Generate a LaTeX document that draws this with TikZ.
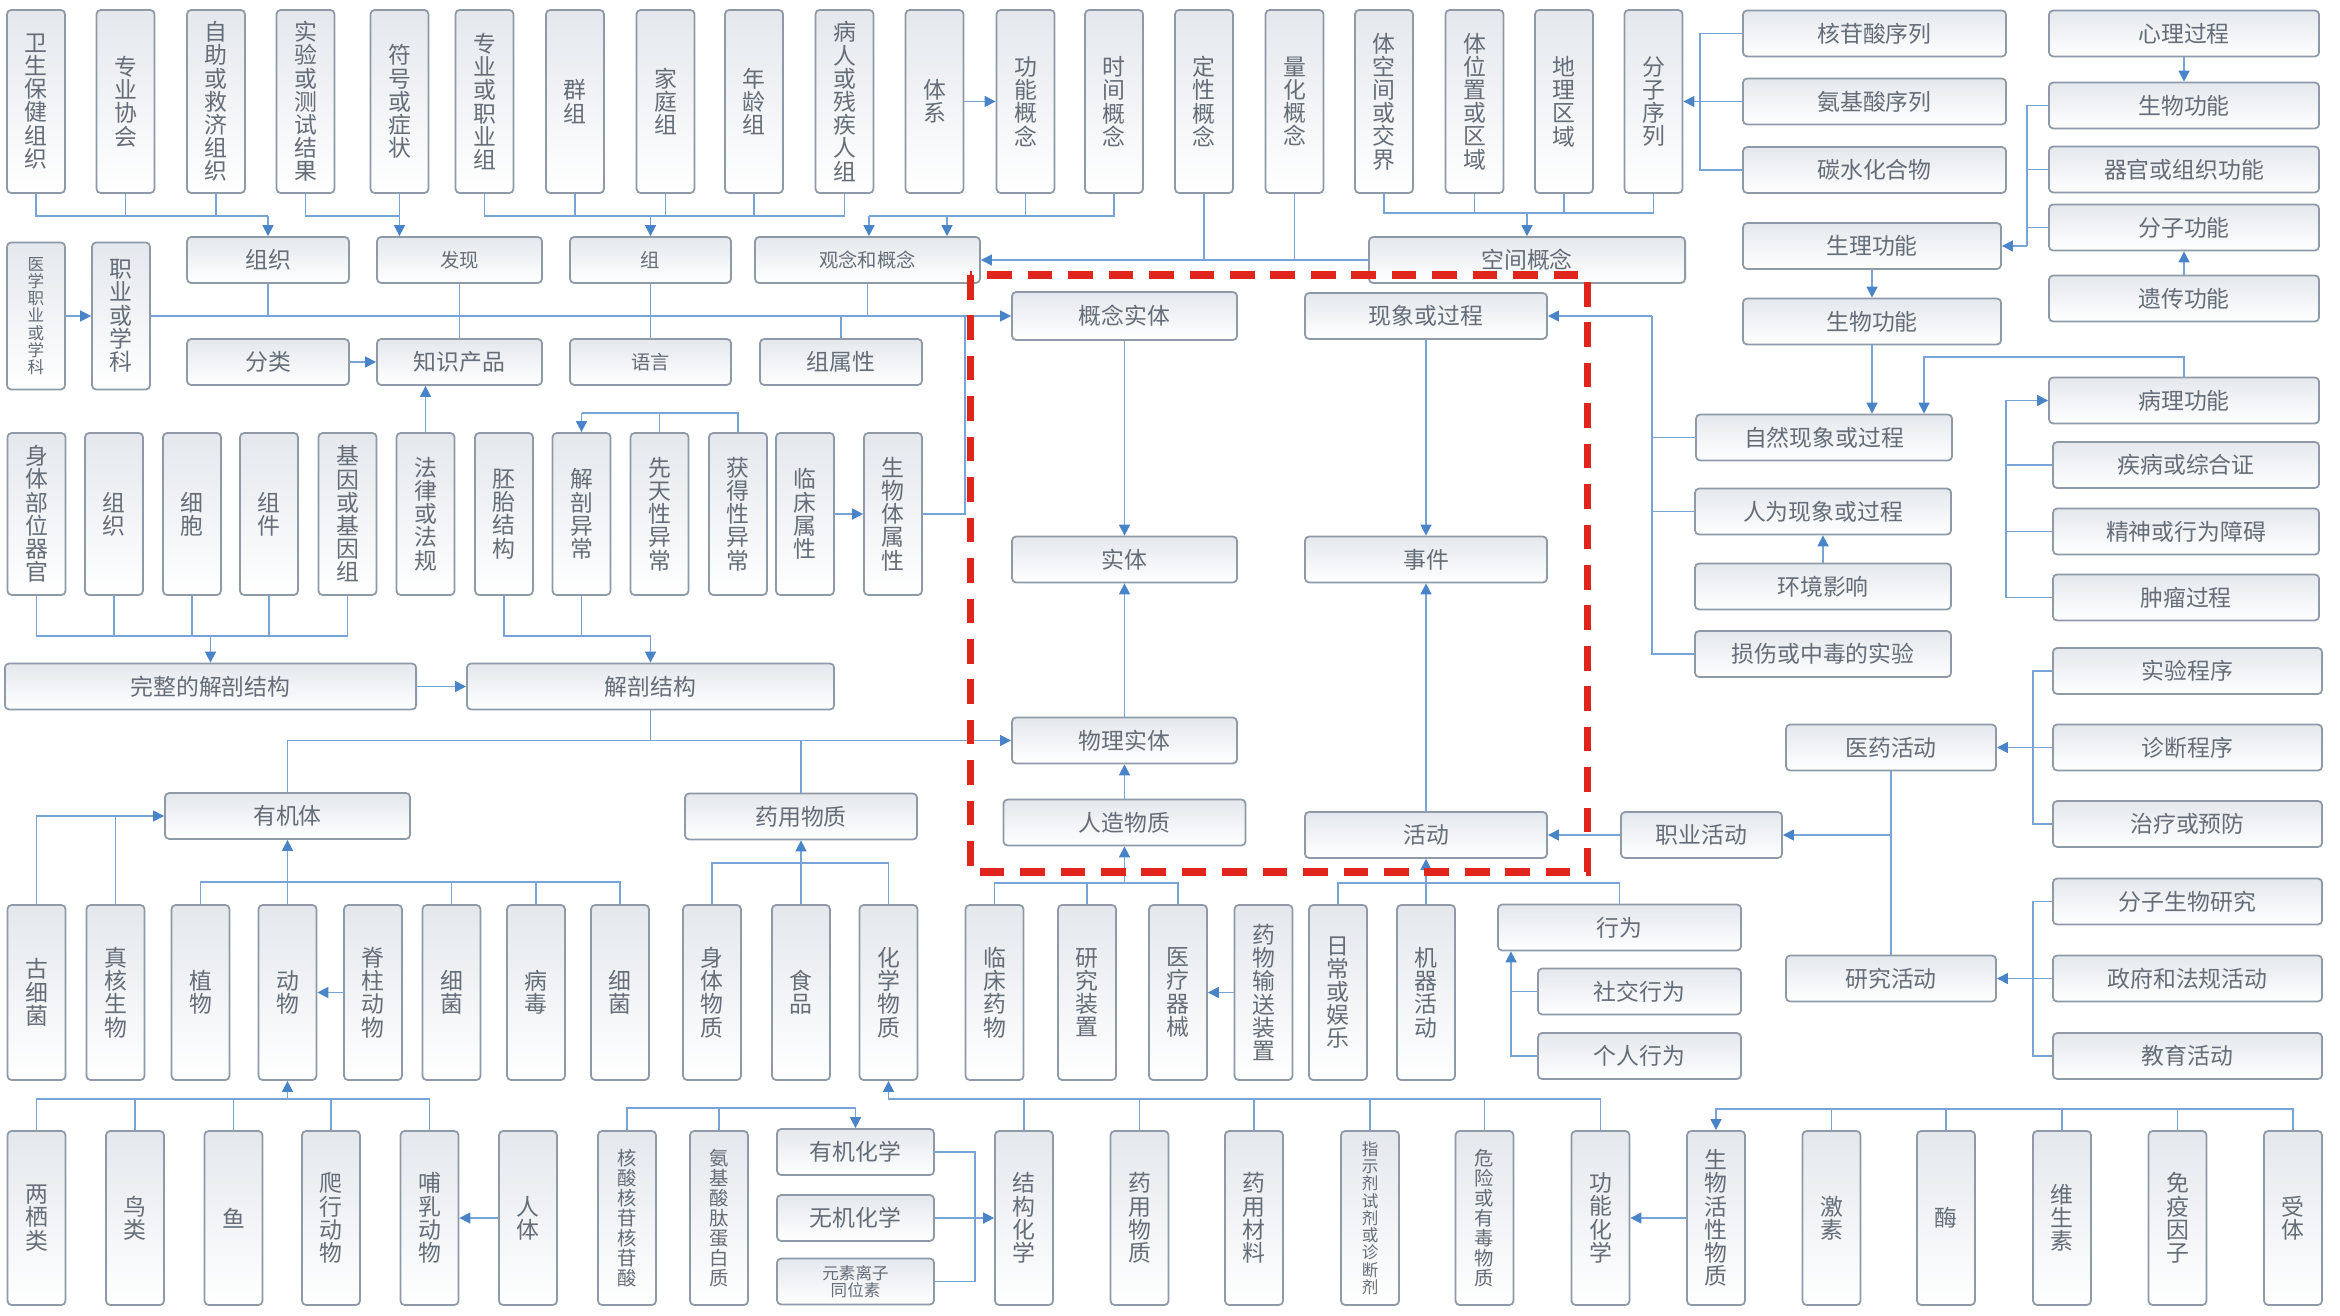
\documentclass[tikz,border=0pt]{standalone}
\usepackage{fontspec}
\newfontfamily\cjk{Noto Sans CJK SC}
\usepackage{tikz}
\usetikzlibrary{arrows.meta}
\definecolor{boxline}{HTML}{8E9AA8}
\definecolor{boxtop}{HTML}{E4E8ED}
\definecolor{boxtext}{HTML}{646D78}
\definecolor{wire}{HTML}{77A3D6}
\definecolor{tip}{HTML}{4A84C8}
\definecolor{alert}{HTML}{E0251C}
\makeatletter
\newcommand\vtxt[1]{\parindent=0pt\vtxt@a#1\@nil}
\def\vtxt@a#1#2\@nil{#1\ifx\relax#2\relax\else\par\vtxt@a#2\@nil\fi}
\makeatother
\tikzset{
  box/.style={draw=boxline,line width=0.5pt,rounded corners=1.2pt,top color=boxtop,bottom color=white,
    text=boxtext,inner sep=0pt,align=center,font=\cjk\fontsize{6.5}{6.6}\selectfont},
  vbox/.style={box,minimum width=0.58cm,minimum height=#1,text width=0.58cm},
  hbox/.style={box,minimum width=#1,minimum height=0.46cm},
  smallfont/.style={font=\cjk\fontsize{5.5}{5.7}\selectfont},
  tinyfont/.style={font=\cjk\fontsize{4.7}{4.9}\selectfont},
  ln/.style={draw=wire,line width=0.45pt},
  arr/.style={ln,-{Triangle[length=1.1mm,width=1.1mm,color=tip]}},
  reddash/.style={draw=alert,line width=2pt,dash pattern=on 7pt off 4.5pt}
}
\begin{document}
\begin{tikzpicture}[x=0.01cm,y=-0.01cm]
  \fill[white] (0,0) rectangle (2340,1316);
  \useasboundingbox (0,0) rectangle (2340,1316);
  \node[vbox=1.83cm] (wsbj) at (36,101.5) {\vtxt{卫生保健组织}};
  \node[vbox=1.83cm] (zyxh) at (125.5,101.5) {\vtxt{专业协会}};
  \node[vbox=1.83cm] (zzjj) at (216,101.5) {\vtxt{自助或救济组织}};
  \node[vbox=1.83cm] (sycs) at (305.5,101.5) {\vtxt{实验或测试结果}};
  \node[vbox=1.83cm] (fhzz) at (399.5,101.5) {\vtxt{符号或症状}};
  \node[vbox=1.83cm] (zyzy) at (484.5,101.5) {\vtxt{专业或职业组}};
  \node[vbox=1.83cm] (qz) at (575,101.5) {\vtxt{群组}};
  \node[vbox=1.83cm] (jtz) at (665.5,101.5) {\vtxt{家庭组}};
  \node[vbox=1.83cm] (nlz) at (754,101.5) {\vtxt{年龄组}};
  \node[vbox=1.83cm] (brcj) at (844.5,101.5) {\vtxt{病人或残疾人组}};
  \node[vbox=1.83cm] (tx) at (934.5,101.5) {\vtxt{体系}};
  \node[vbox=1.83cm] (gngn) at (1025.5,101.5) {\vtxt{功能概念}};
  \node[vbox=1.83cm] (sjgn) at (1114,101.5) {\vtxt{时间概念}};
  \node[vbox=1.83cm] (dxgn) at (1204,101.5) {\vtxt{定性概念}};
  \node[vbox=1.83cm] (lhgn) at (1294.5,101.5) {\vtxt{量化概念}};
  \node[vbox=1.83cm] (tkj) at (1384,101.5) {\vtxt{体空间或交界}};
  \node[vbox=1.83cm] (twz) at (1474.5,101.5) {\vtxt{体位置或区域}};
  \node[vbox=1.83cm] (dlqy) at (1564,101.5) {\vtxt{地理区域}};
  \node[vbox=1.83cm] (fzxl) at (1653.5,101.5) {\vtxt{分子序列}};

  \node[vbox=1.47cm,tinyfont] (yxzy) at (36,316) {\vtxt{医学职业或学科}};
  \node[vbox=1.47cm] (zyxk) at (121,316) {\vtxt{职业或学科}};
  \node[hbox=1.62cm] (zz) at (268,260) {组织};
  \node[hbox=1.65cm,smallfont] (fx) at (459.5,260) {发现};
  \node[hbox=1.61cm,smallfont] (zu) at (650.5,260) {组};
  \node[hbox=2.25cm,smallfont] (gnhgn) at (867.5,260) {观念和概念};
  \node[hbox=3.16cm] (kjgn) at (1527,260) {空间概念};
  \node[hbox=1.62cm] (fl) at (268,362) {分类};
  \node[hbox=1.65cm] (zscp) at (459.5,362) {知识产品};
  \node[hbox=1.61cm,smallfont] (yy) at (650.5,362) {语言};
  \node[hbox=1.62cm] (zsx) at (841,362) {组属性};
  \node[hbox=2.25cm,minimum height=0.48cm] (gnst) at (1124.5,316) {概念实体};
  \node[hbox=2.42cm] (xxgc) at (1426,316) {现象或过程};

  \node[hbox=2.63cm] (hgs) at (1874.5,33.5) {核苷酸序列};
  \node[hbox=2.63cm] (ajs) at (1874.5,101.5) {氨基酸序列};
  \node[hbox=2.63cm] (tshhw) at (1874.5,170) {碳水化合物};
  \node[hbox=2.58cm] (slgn) at (1872,246) {生理功能};
  \node[hbox=2.58cm] (swgnA) at (1872,321.5) {生物功能};
  \node[hbox=2.70cm] (xlgc) at (2184,33.5) {心理过程};
  \node[hbox=2.70cm] (swgnB) at (2184,105.5) {生物功能};
  \node[hbox=2.70cm] (qggn) at (2184,169.5) {器官或组织功能};
  \node[hbox=2.70cm] (fzgn) at (2184,227.5) {分子功能};
  \node[hbox=2.70cm] (ycgn) at (2184,298.5) {遗传功能};
  \node[hbox=2.70cm] (blgn) at (2184,400.5) {病理功能};
  \node[hbox=2.66cm] (jbzh) at (2186,465) {疾病或综合证};
  \node[hbox=2.66cm] (jsxw) at (2186,531.5) {精神或行为障碍};
  \node[hbox=2.66cm] (zlgc) at (2186,597.5) {肿瘤过程};
  \node[hbox=2.69cm] (sycx) at (2187.5,671) {实验程序};
  \node[hbox=2.69cm] (zdcx) at (2187.5,747.5) {诊断程序};
  \node[hbox=2.69cm] (zlyf) at (2187.5,824) {治疗或预防};
  \node[hbox=2.69cm] (fzsw) at (2187.5,901.5) {分子生物研究};
  \node[hbox=2.69cm] (zfhd) at (2187.5,978.5) {政府和法规活动};
  \node[hbox=2.69cm] (jyhd) at (2187.5,1056) {教育活动};
  \node[hbox=2.10cm] (yyhd) at (1891,747.5) {医药活动};
  \node[hbox=2.10cm] (yjhd) at (1891,978.5) {研究活动};
  \node[hbox=1.61cm] (zyhd) at (1701.5,835) {职业活动};
  \node[hbox=2.56cm] (zrxx) at (1824,437.5) {自然现象或过程};
  \node[hbox=2.56cm] (rwxx) at (1823,511.5) {人为现象或过程};
  \node[hbox=2.56cm] (hjyx) at (1823,586.5) {环境影响};
  \node[hbox=2.56cm] (ssz) at (1823,654) {损伤或中毒的实验};

  \node[hbox=2.25cm] (st) at (1124.5,559.5) {实体};
  \node[hbox=2.42cm] (sj) at (1426,559.5) {事件};
  \node[hbox=2.25cm] (wlst) at (1124.5,740.5) {物理实体};
  \node[hbox=2.42cm] (rzwz) at (1124.5,822.5) {人造物质};
  \node[hbox=2.42cm] (hd) at (1426,835) {活动};

  \node[vbox=1.62cm] (stbw) at (36.5,514) {\vtxt{身体部位器官}};
  \node[vbox=1.62cm] (zz2) at (114,514) {\vtxt{组织}};
  \node[vbox=1.62cm] (xb) at (192,514) {\vtxt{细胞}};
  \node[vbox=1.62cm] (zj) at (269,514) {\vtxt{组件}};
  \node[vbox=1.62cm] (jy) at (347.5,514) {\vtxt{基因或基因组}};
  \node[vbox=1.62cm] (flfg) at (425.5,514) {\vtxt{法律或法规}};
  \node[vbox=1.62cm] (ptjg) at (504,514) {\vtxt{胚胎结构}};
  \node[vbox=1.62cm] (jpyc) at (581.5,514) {\vtxt{解剖异常}};
  \node[vbox=1.62cm] (xtx) at (659.5,514) {\vtxt{先天性异常}};
  \node[vbox=1.62cm] (hdx) at (738,514) {\vtxt{获得性异常}};
  \node[vbox=1.62cm] (lcsx) at (805,514) {\vtxt{临床属性}};
  \node[vbox=1.62cm] (swtsx) at (893,514) {\vtxt{生物体属性}};
  \node[hbox=4.11cm] (wzjp) at (210.5,686.5) {完整的解剖结构};
  \node[hbox=3.67cm] (jpjg) at (650.5,686.5) {解剖结构};
  \node[hbox=2.45cm] (yjt) at (287.5,816) {有机体};
  \node[hbox=2.32cm] (yywz) at (801,816.5) {药用物质};

  \node[vbox=1.75cm] (gxj) at (36.5,992.5) {\vtxt{古细菌}};
  \node[vbox=1.75cm] (zhsw) at (115.5,992.5) {\vtxt{真核生物}};
  \node[vbox=1.75cm] (zw) at (200.5,992.5) {\vtxt{植物}};
  \node[vbox=1.75cm] (dw) at (287.5,992.5) {\vtxt{动物}};
  \node[vbox=1.75cm] (jzdw) at (373,992.5) {\vtxt{脊柱动物}};
  \node[vbox=1.75cm] (xj) at (451.5,992.5) {\vtxt{细菌}};
  \node[vbox=1.75cm] (bd) at (536,992.5) {\vtxt{病毒}};
  \node[vbox=1.75cm] (xj2) at (620,992.5) {\vtxt{细菌}};
  \node[vbox=1.75cm] (stwz) at (712,992.5) {\vtxt{身体物质}};
  \node[vbox=1.75cm] (sp) at (801,992.5) {\vtxt{食品}};
  \node[vbox=1.75cm] (hxwz) at (888.5,992.5) {\vtxt{化学物质}};
  \node[vbox=1.75cm] (lcyw) at (994.5,992.5) {\vtxt{临床药物}};
  \node[vbox=1.75cm] (yjzz) at (1087,992.5) {\vtxt{研究装置}};
  \node[vbox=1.75cm] (ylqx) at (1178,992.5) {\vtxt{医疗器械}};
  \node[vbox=1.75cm] (ywss) at (1263.5,992.5) {\vtxt{药物输送装置}};
  \node[vbox=1.75cm] (rcyl) at (1338,992.5) {\vtxt{日常或娱乐}};
  \node[vbox=1.75cm] (jqhd) at (1426,992.5) {\vtxt{机器活动}};
  \node[hbox=2.43cm] (xw) at (1619.5,927.5) {行为};
  \node[hbox=2.03cm] (sjxw) at (1639.5,991.5) {社交行为};
  \node[hbox=2.03cm] (grxw) at (1639.5,1056) {个人行为};

  \node[vbox=1.74cm] (lql) at (36.5,1218) {\vtxt{两栖类}};
  \node[vbox=1.74cm] (nl) at (135,1218) {\vtxt{鸟类}};
  \node[vbox=1.74cm] (yu) at (233.5,1218) {\vtxt{鱼}};
  \node[vbox=1.74cm] (pxdw) at (331,1218) {\vtxt{爬行动物}};
  \node[vbox=1.74cm] (brdw) at (429.5,1218) {\vtxt{哺乳动物}};
  \node[vbox=1.74cm] (rt) at (528,1218) {\vtxt{人体}};
  \node[vbox=1.74cm,smallfont] (hshg) at (627,1218) {\vtxt{核酸核苷核苷酸}};
  \node[vbox=1.74cm,smallfont] (ajst) at (719,1218) {\vtxt{氨基酸肽蛋白质}};
  \node[hbox=1.57cm] (yjhx) at (855.5,1152) {有机化学};
  \node[hbox=1.57cm] (wjhx) at (855.5,1218) {无机化学};
  \node[hbox=1.57cm,tinyfont] (ysl) at (855.5,1281.5) {元素离子\\同位素};
  \node[vbox=1.74cm] (jghx) at (1024,1218) {\vtxt{结构化学}};
  \node[vbox=1.74cm] (yywz2) at (1139.5,1218) {\vtxt{药用物质}};
  \node[vbox=1.74cm] (yycl) at (1254,1218) {\vtxt{药用材料}};
  \node[vbox=1.74cm,tinyfont] (zsj) at (1370,1218) {\vtxt{指示剂试剂或诊断剂}};
  \node[vbox=1.74cm,smallfont] (wxyd) at (1484.5,1218) {\vtxt{危险或有毒物质}};
  \node[vbox=1.74cm] (gnhx) at (1600.5,1218) {\vtxt{功能化学}};
  \node[vbox=1.74cm] (swhx) at (1716,1218) {\vtxt{生物活性物质}};
  \node[vbox=1.74cm] (js) at (1831.5,1218) {\vtxt{激素}};
  \node[vbox=1.74cm] (mei) at (1946,1218) {\vtxt{酶}};
  \node[vbox=1.74cm] (wss) at (2062,1218) {\vtxt{维生素}};
  \node[vbox=1.74cm] (myyz) at (2177.5,1218) {\vtxt{免疫因子}};
  \node[vbox=1.74cm] (st2) at (2293,1218) {\vtxt{受体}};

  \coordinate (b1) at (268,216);
  \draw[ln] (wsbj.south) |- (b1);
  \draw[ln] (zyxh.south) -- (zyxh.south |- b1);
  \draw[ln] (zzjj.south) -- (zzjj.south |- b1);
  \draw[arr] (b1) -- (zz.north);
  \coordinate (b2) at (399.5,216);
  \draw[ln] (sycs.south) |- (b2);
  \draw[arr] (fhzz.south) -- (fhzz.south |- fx.north);
  \coordinate (b3) at (650.5,216);
  \draw[ln] (zyzy.south) |- (brcj.south |- b3) -- (brcj.south);
  \draw[ln] (qz.south) -- (qz.south |- b3);
  \draw[ln] (jtz.south) -- (jtz.south |- b3);
  \draw[ln] (nlz.south) -- (nlz.south |- b3);
  \draw[arr] (b3) -- (zu.north);
  \coordinate (b4) at (869,216);
  \coordinate (b4b) at (947,216);
  \draw[ln] (sjgn.south) |- (b4);
  \draw[ln] (gngn.south) -- (gngn.south |- b4);
  \draw[arr] (b4) -- (b4 |- gnhgn.north);
  \draw[arr] (b4b) -- (b4b |- gnhgn.north);
  \draw[arr] (tx) -- (gngn);
  \draw[arr] (kjgn.west) -- (gnhgn.east);
  \draw[ln] (dxgn.south) -- (dxgn.south |- kjgn.west);
  \draw[ln] (lhgn.south) -- (lhgn.south |- kjgn.west);
  \coordinate (b7) at (1527,213);
  \draw[ln] (tkj.south) |- (fzxl.south |- b7) -- (fzxl.south);
  \draw[ln] (twz.south) -- (twz.south |- b7);
  \draw[ln] (dlqy.south) -- (dlqy.south |- b7);
  \draw[arr] (b7) -- (kjgn.north);

  \coordinate (b8) at (1700,101.5);
  \draw[ln] (hgs.west) -| (b8 |- tshhw.west) -- (tshhw.west);
  \draw[arr] (ajs.west) -- (fzxl.east);
  \draw[arr] (xlgc) -- (swgnB);
  \draw[arr] (ycgn) -- (fzgn);
  \coordinate (b11) at (2027,246);
  \draw[ln] (swgnB.west) -| (b11);
  \draw[ln] (qggn.west) -- (qggn.west -| b11);
  \draw[ln] (fzgn.west) -- (fzgn.west -| b11);
  \draw[arr] (b11) -- (slgn.east);
  \draw[arr] (slgn) -- (swgnA);
  \draw[arr] (swgnA.south) -- (swgnA.south |- zrxx.north);
  \coordinate (b14) at (1924,357);
  \draw[arr] (blgn.north) |- (b14) -- (b14 |- zrxx.north);
  \coordinate (b15) at (2006,400.5);
  \draw[ln] (zlgc.west) -| (b15);
  \draw[ln] (jbzh.west) -- (jbzh.west -| b15);
  \draw[ln] (jsxw.west) -- (jsxw.west -| b15);
  \draw[arr] (b15) -- (blgn.west);
  \coordinate (b16) at (1652,316);
  \draw[ln] (ssz.west) -| (b16);
  \draw[ln] (zrxx.west) -- (zrxx.west -| b16);
  \draw[ln] (rwxx.west) -- (rwxx.west -| b16);
  \draw[arr] (b16) -- (xxgc.east);
  \draw[arr] (hjyx) -- (rwxx);
  \coordinate (b18) at (2033,824);
  \draw[ln] (sycx.west) -| (b18) -- (zlyf.west);
  \draw[arr] (zdcx.west) -- (yyhd.east);
  \coordinate (b19) at (2033,1056);
  \draw[ln] (fzsw.west) -| (b19) -- (jyhd.west);
  \draw[arr] (zfhd.west) -- (yjhd.east);
  \draw[ln] (yyhd) -- (yjhd);
  \draw[arr] (yyhd.south |- zyhd.east) -- (zyhd.east);
  \draw[arr] (zyhd) -- (hd);
  \draw[arr] (hd) -- (sj);
  \draw[arr] (xxgc) -- (sj);
  \draw[arr] (gnst) -- (st);
  \draw[arr] (wlst) -- (st);
  \draw[arr] (rzwz) -- (wlst);

  \draw[arr] (yxzy) -- (zyxk);
  \draw[arr] (zyxk) -- (gnst);
  \draw[ln] (zz.south) -- (zz.south |- gnst.west);
  \draw[ln] (fx) -- (zscp);
  \draw[ln] (zu) -- (yy);
  \draw[ln] (gnhgn.south) -- (gnhgn.south |- gnst.west);
  \draw[ln] (zsx.north) -- (zsx.north |- gnst.west);
  \coordinate (b27) at (965,316);
  \draw[ln] (swtsx.east) -| (b27);
  \draw[arr] (fl) -- (zscp);
  \draw[arr] (flfg.north) -- (flfg.north |- zscp.south);
  \coordinate (b31) at (581.5,413);
  \draw[ln] (hdx.north) |- (b31);
  \draw[ln] (xtx.north) -- (xtx.north |- b31);
  \draw[arr] (b31) -- (jpyc.north);
  \draw[arr] (lcsx) -- (swtsx);
  \coordinate (b33) at (210.5,636);
  \draw[ln] (stbw.south) |- (jy.south |- b33) -- (jy.south);
  \draw[ln] (zz2.south) -- (zz2.south |- b33);
  \draw[ln] (xb.south) -- (xb.south |- b33);
  \draw[ln] (zj.south) -- (zj.south |- b33);
  \draw[arr] (b33) -- (wzjp.north);
  \coordinate (b34) at (650.5,636);
  \draw[ln] (ptjg.south) |- (b34);
  \draw[ln] (jpyc.south) -- (jpyc.south |- b34);
  \draw[arr] (b34) -- (jpjg.north);
  \draw[arr] (wzjp) -- (jpjg);
  \draw[arr] (yjt.north) |- (wlst.west);
  \draw[ln] (jpjg.south) -- (jpjg.south |- wlst.west);
  \draw[ln] (yywz.north) -- (yywz.north |- wlst.west);

  \draw[arr] (gxj.north) |- (yjt.west);
  \draw[ln] (zhsw.north) -- (zhsw.north |- yjt.west);
  \coordinate (b38) at (287.5,882);
  \draw[ln] (zw.north) |- (xj2.north |- b38) -- (xj2.north);
  \draw[ln] (xj.north) -- (xj.north |- b38);
  \draw[ln] (bd.north) -- (bd.north |- b38);
  \draw[arr] (dw) -- (yjt);
  \draw[arr] (jzdw) -- (dw);
  \coordinate (b40) at (287.5,1099);
  \draw[ln] (lql.north) |- (brdw.north |- b40) -- (brdw.north);
  \draw[ln] (nl.north) -- (nl.north |- b40);
  \draw[ln] (yu.north) -- (yu.north |- b40);
  \draw[ln] (pxdw.north) -- (pxdw.north |- b40);
  \draw[arr] (b40) -- (dw.south);
  \draw[arr] (rt) -- (brdw);
  \coordinate (b42) at (801,863);
  \draw[ln] (stwz.north) |- (hxwz.north |- b42) -- (hxwz.north);
  \draw[arr] (sp) -- (yywz);
  \coordinate (b43) at (1124.5,883);
  \draw[ln] (lcyw.north) |- (ylqx.north |- b43) -- (ylqx.north);
  \draw[ln] (yjzz.north) -- (yjzz.north |- b43);
  \draw[arr] (b43) -- (rzwz.south);
  \draw[arr] (ywss) -- (ylqx);
  \coordinate (b45) at (1426,883);
  \draw[ln] (rcyl.north) |- (xw.north |- b45) -- (xw.north);
  \draw[arr] (jqhd) -- (hd);
  \coordinate (b46) at (1511,1056);
  \draw[arr] (grxw.west) -| (b46 |- xw.south);
  \draw[ln] (sjxw.west) -- (sjxw.west -| b46);

  \coordinate (b47) at (855.5,1108);
  \draw[arr] (hshg.north) |- (b47) -- (yjhx.north);
  \draw[ln] (ajst.north) -- (ajst.north |- b47);
  \coordinate (b48) at (975,1152);
  \draw[ln] (yjhx.east) -| (b48 |- ysl.east) -- (ysl.east);
  \draw[arr] (wjhx.east) -- (jghx.west);
  \coordinate (b49) at (888.5,1099);
  \draw[arr] (gnhx.north) |- (b49) -- (hxwz.south);
  \draw[ln] (jghx.north) -- (jghx.north |- b49);
  \draw[ln] (yywz2.north) -- (yywz2.north |- b49);
  \draw[ln] (yycl.north) -- (yycl.north |- b49);
  \draw[ln] (zsj.north) -- (zsj.north |- b49);
  \draw[ln] (wxyd.north) -- (wxyd.north |- b49);
  \draw[arr] (swhx) -- (gnhx);
  \coordinate (b51) at (1716,1109);
  \draw[arr] (st2.north) |- (b51) -- (swhx.north);
  \draw[ln] (js.north) -- (js.north |- b51);
  \draw[ln] (mei.north) -- (mei.north |- b51);
  \draw[ln] (wss.north) -- (wss.north |- b51);
  \draw[ln] (myyz.north) -- (myyz.north |- b51);

  \draw[reddash] (970,275) rectangle (1587,872);
\end{tikzpicture}
\end{document}
